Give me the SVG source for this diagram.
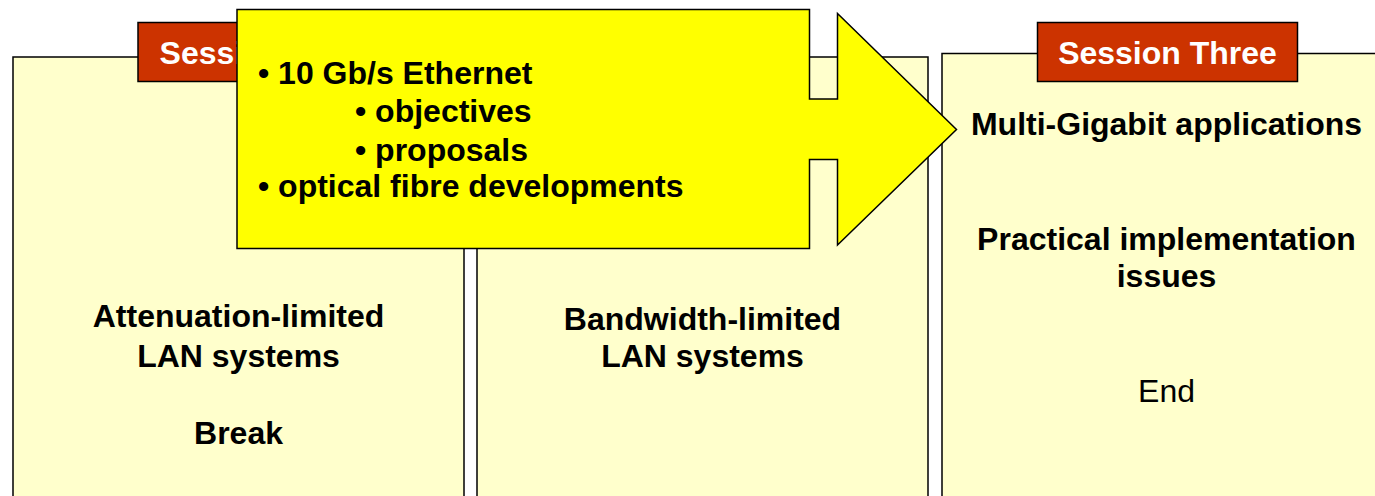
<svg xmlns="http://www.w3.org/2000/svg" width="1375" height="496" viewBox="0 0 1375 496">
  <style>
    .panel { fill: #FFFFCC; stroke: #000; stroke-width: 1.5; }
    .tab { fill: #CC3300; stroke: #000; stroke-width: 1.5; }
    .tab-text { font-family: "Liberation Sans", Arial, sans-serif; font-size: 32px; font-weight: bold; fill: #FFFFFF; text-anchor: middle; }
    .body { font-family: "Liberation Sans", Arial, sans-serif; font-size: 32px; font-weight: bold; fill: #000; text-anchor: middle; }
    .plain { font-weight: normal; }
    .callout { fill: #FFFF00; stroke: #000; stroke-width: 1.5; stroke-linejoin: miter; }
    .bullet { font-family: "Liberation Sans", Arial, sans-serif; font-size: 32px; font-weight: bold; fill: #000; }
  </style>
  <defs>
    <!-- the part of the first tab left uncovered by the callout -->
    <clipPath id="tab-one-visible">
      <rect x="130" y="15" width="107" height="75"/>
    </clipPath>
  </defs>
  <rect width="1375" height="496" fill="#FFFFFF"/>

  <!-- Session one panel -->
  <g id="session-one">
    <rect class="panel" x="13" y="57" width="451" height="460"/>
    <g clip-path="url(#tab-one-visible)">
      <rect class="tab" x="138" y="22.5" width="237" height="59"/>
      <text class="tab-text" x="256.5" y="63.5">Session One</text>
    </g>
    <text class="body" x="238.5" y="327">Attenuation-limited</text>
    <text class="body" x="238.5" y="367">LAN systems</text>
    <text class="body" x="238.5" y="443.5">Break</text>
  </g>

  <!-- Session two panel -->
  <g id="session-two">
    <rect class="panel" x="477" y="57" width="451" height="460"/>
    <text class="body" x="702.5" y="330">Bandwidth-limited</text>
    <text class="body" x="702.5" y="367">LAN systems</text>
  </g>

  <!-- Session three panel -->
  <g id="session-three">
    <rect class="panel" x="942" y="53.5" width="451" height="460"/>
    <rect class="tab" x="1037.5" y="22.5" width="260" height="59"/>
    <text class="tab-text" x="1167.5" y="63.5">Session Three</text>
    <text class="body" x="1166.5" y="134.5">Multi-Gigabit applications</text>
    <text class="body" x="1166.5" y="249.5">Practical implementation</text>
    <text class="body" x="1166.5" y="287">issues</text>
    <text class="body plain" x="1166.5" y="402">End</text>
  </g>

  <!-- Topic callout with arrow pointing into session three -->
  <g id="topic-callout">
    <path class="callout" d="M237,9.5 H809.5 V99 H837.5 V13.5 L956.5,129.5 L837.5,245 V159.5 H809.5 V248.5 H237 Z"/>
    <text class="bullet" x="258" y="83.5">• 10 Gb/s Ethernet</text>
    <text class="bullet" x="355" y="121.5">• objectives</text>
    <text class="bullet" x="355" y="160.5">• proposals</text>
    <text class="bullet" x="258" y="197">• optical fibre developments</text>
  </g>
</svg>
